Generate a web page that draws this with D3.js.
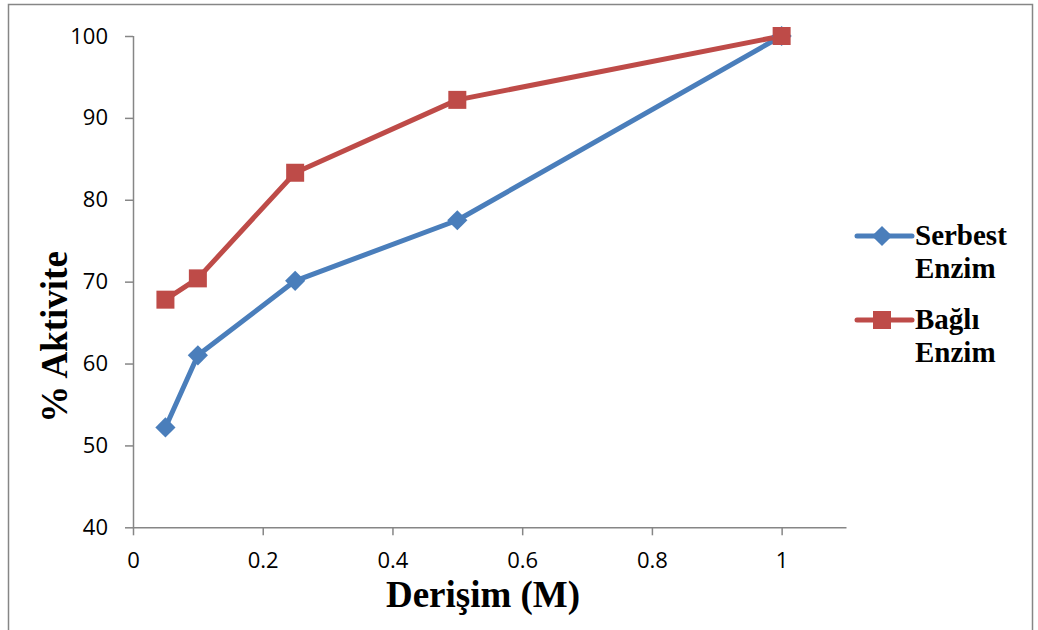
<!DOCTYPE html>
<html>
<head>
<meta charset="utf-8">
<script src="https://cdn.jsdelivr.net/npm/d3@7"></script>
<style>
  html, body { margin: 0; padding: 0; background: #fff; }
  svg { display: block; }
</style>
</head>
<body>
<svg id="chart" width="1038" height="630"></svg>
<script>
// Concentration (M) and relative activity (%)
const concentrations = [0.05, 0.1, 0.25, 0.5, 1];
const serbestValues = [52.2, 61.0, 70.1, 77.5, 100];
const bagliValues = [67.8, 70.4, 83.3, 92.2, 100];
const xTicks = [0, 0.2, 0.4, 0.6, 0.8, 1];
const yTicks = [40, 50, 60, 70, 80, 90, 100];
const seriesNames = [["Serbest", "Enzim"], ["Bağlı", "Enzim"]];
const seriesColors = ["#4A7EBB", "#BE4B48"];

const svg = d3.select("#chart");
const axisColor = "#868686";

// outer chart frame
svg.append("rect")
  .attr("x", 8.5).attr("y", 4.5)
  .attr("width", 1024).attr("height", 640)
  .attr("fill", "none").attr("stroke", axisColor).attr("stroke-width", 1.5);

const x = d3.scaleLinear().domain([0, 1.1]).range([133, 846.5]);
const y = d3.scaleLinear().domain([40, 100]).range([527.3, 36]);

// y axis
const yAxis = d3.axisLeft(y).tickValues(yTicks).tickSize(8).tickPadding(17);
const gy = svg.append("g").attr("transform", `translate(${x(0)},0)`).call(yAxis);
// x axis
const xAxis = d3.axisBottom(x).tickValues(xTicks).tickSize(8).tickPadding(17)
  .tickFormat(d => d3.format("")(d));
const gx = svg.append("g").attr("transform", `translate(0,${y(40)})`).call(xAxis);

[gx, gy].forEach(g => {
  g.select(".domain").attr("stroke", axisColor).attr("stroke-width", 1.5);
  g.selectAll(".tick line").attr("stroke", axisColor).attr("stroke-width", 1.5);
  g.selectAll(".tick text")
    .attr("fill", "#000")
    .style("font-family", "'Open Sans', 'Noto Sans', sans-serif")
    .style("font-size", "22px");
});
gx.select(".domain").attr("d", `M${x(0)},0.5H${x(1.1)}`);
gy.select(".domain").attr("d", `M0.5,${y(40)}V${y(100)}`);

// axis titles
svg.append("text")
  .attr("x", 483).attr("y", 607)
  .attr("text-anchor", "middle")
  .style("font-family", "'Liberation Serif', 'Times New Roman', serif")
  .style("font-weight", "bold").style("font-size", "37px")
  .text("Derişim (M)");

svg.append("text")
  .attr("transform", "translate(67,337) rotate(-90)")
  .attr("text-anchor", "middle")
  .style("font-family", "'Liberation Serif', 'Times New Roman', serif")
  .style("font-weight", "bold").style("font-size", "37px")
  .text("% Aktivite");

const allSeries = [serbestValues, bagliValues];
const line = d3.line().x(d => x(d[0])).y(d => y(d[1]));

allSeries.forEach((vals, i) => {
  const pts = concentrations.map((c, j) => [c, vals[j]]);
  svg.append("path")
    .datum(pts)
    .attr("d", line)
    .attr("fill", "none")
    .attr("stroke", seriesColors[i])
    .attr("stroke-width", 5)
    .attr("stroke-linejoin", "round");
});

const diamond = d3.symbol().type(d3.symbolDiamond2).size(260);
const square = d3.symbol().type(d3.symbolSquare).size(324);

function drawMarker(g, i, cx, cy) {
  g.append("path")
    .attr("d", i === 0 ? diamond() : square())
    .attr("transform", `translate(${cx},${cy})`)
    .attr("fill", seriesColors[i]);
}

allSeries.forEach((vals, i) => {
  concentrations.forEach((c, j) => drawMarker(svg, i, x(c), y(vals[j])));
});

// legend
const legendY = [236, 320];
seriesNames.forEach((names, i) => {
  const ly = legendY[i];
  svg.append("line")
    .attr("x1", 857).attr("x2", 912).attr("y1", ly).attr("y2", ly)
    .attr("stroke", seriesColors[i]).attr("stroke-width", 5)
    .attr("stroke-linecap", "round");
  drawMarker(svg, i, 882, ly);
  names.forEach((t, k) => {
    svg.append("text")
      .attr("x", 915).attr("y", ly + 9 + k * 33)
      .style("font-family", "'Liberation Serif', 'Times New Roman', serif")
      .style("font-weight", "bold").style("font-size", "29px")
      .attr("fill", "#000")
      .text(t);
  });
});
</script>
</body>
</html>
